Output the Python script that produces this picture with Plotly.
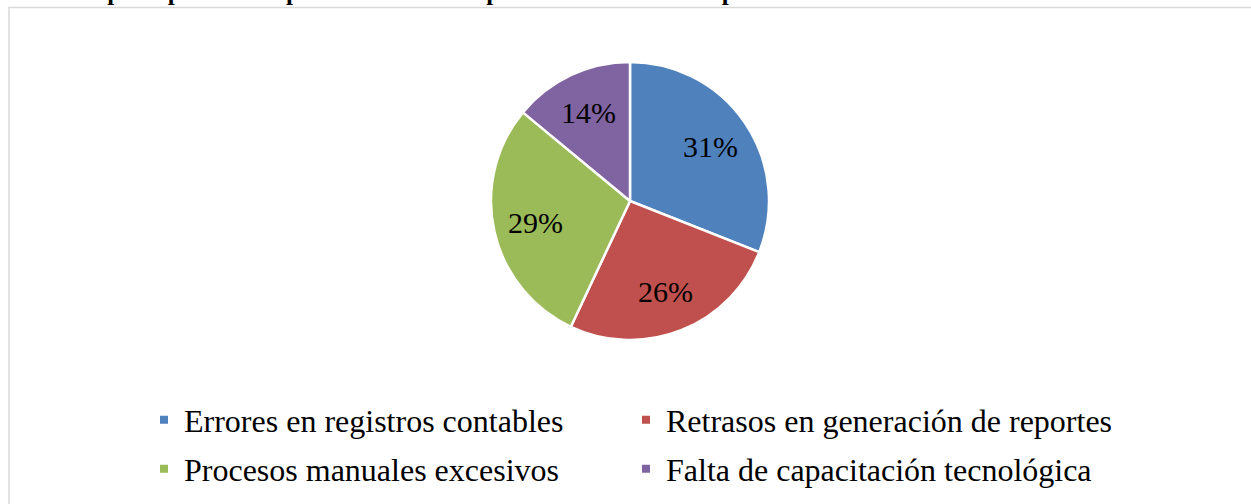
import math
import plotly.graph_objects as go

categories = ["Errores en registros contables", "Retrasos en generación de reportes",
              "Procesos manuales excesivos", "Falta de capacitación tecnológica"]
values = [31, 26, 29, 14]
colors = ["#4F81BD", "#C0504D", "#9BBB59", "#8064A2"]
title_text = "Principales problemas presentados en los procesos contables empresariales"

W, H = 1251, 504
serif = "Liberation Serif, Times New Roman, serif"

# pie geometry (pixels)
CX, CY, R = 630, 201, 139
LABEL_R = 0.7 * R

fig = go.Figure()
fig.add_trace(go.Pie(
    labels=categories, values=values, sort=False, direction="clockwise", rotation=0,
    marker=dict(colors=colors, line=dict(color="white", width=2.5)),
    textinfo="none",
    domain=dict(x=[(CX - 500) / W, (CX + 500) / W], y=[1 - (CY + R) / H, 1 - (CY - R) / H]),
    showlegend=False, hoverinfo="label+percent",
))

# percentage labels placed at slice mid-angles
total = sum(values)
annotations = []
cum = 0
for v in values:
    mid = (cum + v / 2) / total * 2 * math.pi
    cum += v
    px = CX + LABEL_R * math.sin(mid)
    py = CY - LABEL_R * math.cos(mid)
    annotations.append(dict(text=f"{round(100 * v / total)}%", xref="paper", yref="paper",
                            x=px / W, y=1 - py / H, xanchor="center", yanchor="middle",
                            showarrow=False, font=dict(family=serif, size=30, color="black")))

annotations.append(dict(text="<b>" + title_text + "</b>", xref="paper", yref="paper",
                        x=40 / W, y=1 - 7 / H, xanchor="left", yanchor="bottom",
                        showarrow=False, font=dict(family=serif, size=25, color="black")))

# legend entries: one legend per cell of a 2x2 grid
legend_pos = [(144, 420), (626, 420), (144, 469), (626, 469)]
legend_names = ["legend", "legend2", "legend3", "legend4"]
for cat, col, ln in zip(categories, colors, legend_names):
    fig.add_trace(go.Scatter(
        x=[None], y=[None], mode="markers", name=cat,
        marker=dict(symbol="square", size=8, color=col), legend=ln,
    ))

legend_common = dict(orientation="h", xanchor="left", yanchor="middle",
                     font=dict(family=serif, size=32, color="black"),
                     bgcolor="rgba(0,0,0,0)", itemwidth=30)
legends = {ln: dict(x=lx / W, y=1 - ly / H, **legend_common)
           for ln, (lx, ly) in zip(legend_names, legend_pos)}

fig.update_layout(
    width=W, height=H,
    margin=dict(l=0, r=0, t=0, b=0),
    paper_bgcolor="white", plot_bgcolor="white",
    xaxis=dict(visible=False), yaxis=dict(visible=False),
    shapes=[dict(type="rect", xref="paper", yref="paper",
                 x0=9 / W, x1=1.02, y0=-0.02, y1=1 - 7.5 / H,
                 line=dict(color="#D9D9D9", width=1.5), fillcolor="rgba(0,0,0,0)")],
    annotations=annotations,
    **legends,
)

fig.write_html("out.html", config={"displayModeBar": False},
               post_script="document.body.style.margin='0px';")
